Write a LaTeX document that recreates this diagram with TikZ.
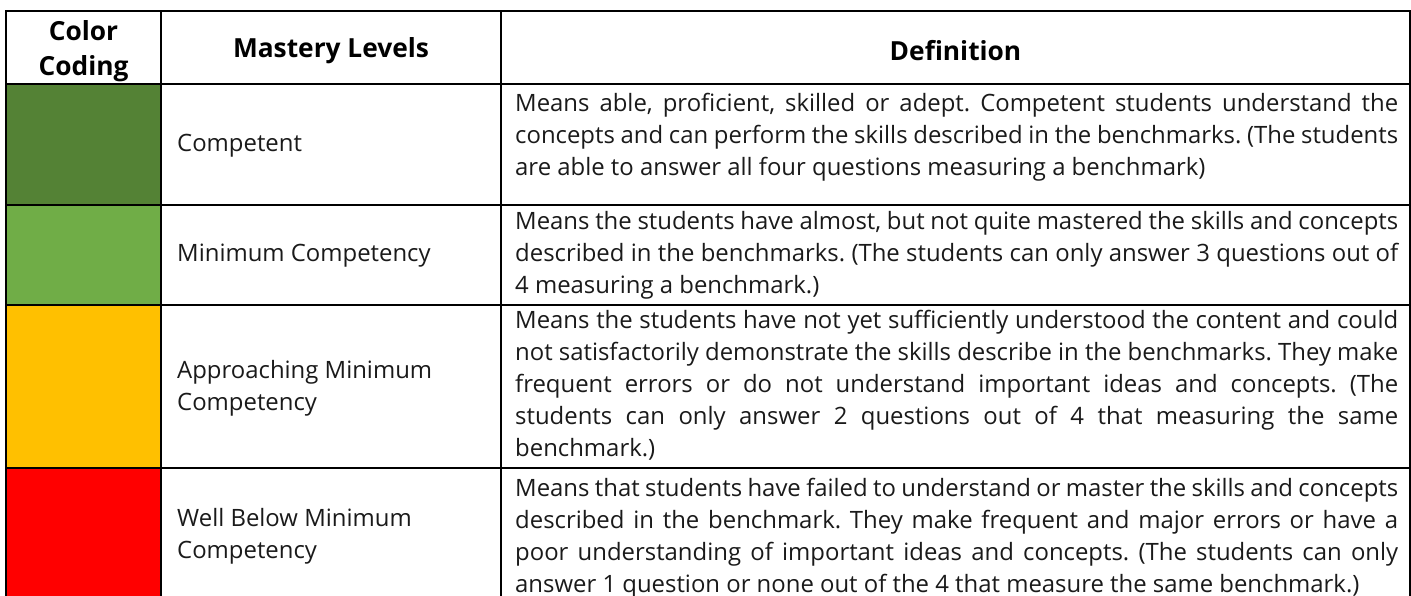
\documentclass[tikz,border=0pt]{standalone}
\usepackage{fontspec}
\setmainfont{Open Sans}
\frenchspacing
\newcommand\JLine[1]{\makebox[883pt][s]{\strut#1}}
\newcommand\SLine[1]{\strut#1}
\definecolor{cdg}{HTML}{548235}
\definecolor{clg}{HTML}{70AD47}
\definecolor{cyl}{HTML}{FFC000}
\definecolor{crd}{HTML}{FF0000}
\definecolor{txt}{HTML}{1A1A1A}
\begin{document}
\begin{tikzpicture}[x=1pt,y=-1pt,
  grid/.style={draw=black,line width=2.6pt},
  head/.style={font=\fontsize{26.3}{34.5}\selectfont\bfseries,align=center,inner sep=0pt,text=black},
  level/.style={font=\fontsize{23.9}{32}\selectfont,align=left,inner sep=0pt,anchor=west,text=txt},
  deftext/.style={font=\fontsize{23.9}{32}\selectfont,align=left,inner sep=0pt,anchor=west,text=txt}]
\useasboundingbox (0,0) rectangle (1411,596);
% colour cells
\fill[cdg] (6,84) rectangle (161,205);
\fill[clg] (6,205) rectangle (161,305);
\fill[cyl] (6,305) rectangle (161,468);
\fill[crd] (6,468) rectangle (161,600);
% grid
\draw[grid] (6,11) rectangle (1410,600);
\draw[grid] (161,11) -- (161,600);
\draw[grid] (501,11) -- (501,600);
\foreach \yy in {84,205,305,468} \draw[grid] (6,\yy) -- (1410,\yy);
% headers
\node[head] (h1) at (83.5,51) {Color\\Coding};
\node[head] (h2) at (331,51) {Mastery Levels};
\node[head] (h3) at (955.5,51) {Definition};
% levels
\node[level] (l1) at (177,145) {\SLine{Competent}};
\node[level] (l2) at (177,255) {\SLine{Minimum Competency}};
\node[level] (l3) at (177,388) {\SLine{Approaching Minimum}\\\SLine{Competency}};
\node[level] (l4) at (177,536) {\SLine{Well Below Minimum}\\\SLine{Competency}};
% definitions
\node[deftext] (d1) at (515,137.5) {\JLine{Means able, proficient, skilled or adept. Competent students understand the}\\
\JLine{concepts and can perform the skills described in the benchmarks. (The students}\\
\SLine{are able to answer all four questions measuring a benchmark)}};
\node[deftext] (d2) at (515,255) {\JLine{Means the students have almost, but not quite mastered the skills and concepts}\\
\JLine{described in the benchmarks. (The students can only answer 3 questions out of}\\
\SLine{4 measuring a benchmark.)}};
\node[deftext] (d3) at (515,386) {\JLine{Means the students have not yet sufficiently understood the content and could}\\
\JLine{not satisfactorily demonstrate the skills describe in the benchmarks. They make}\\
\JLine{frequent errors or do not understand important ideas and concepts. (The}\\
\JLine{students can only answer 2 questions out of 4 that measuring the same}\\
\SLine{benchmark.)}};
\node[deftext] (d4) at (515,538) {\JLine{Means that students have failed to understand or master the skills and concepts}\\
\JLine{described in the benchmark. They make frequent and major errors or have a}\\
\JLine{poor understanding of important ideas and concepts. (The students can only}\\
\SLine{answer 1 question or none out of the 4 that measure the same benchmark.)}};
\end{tikzpicture}
\end{document}
